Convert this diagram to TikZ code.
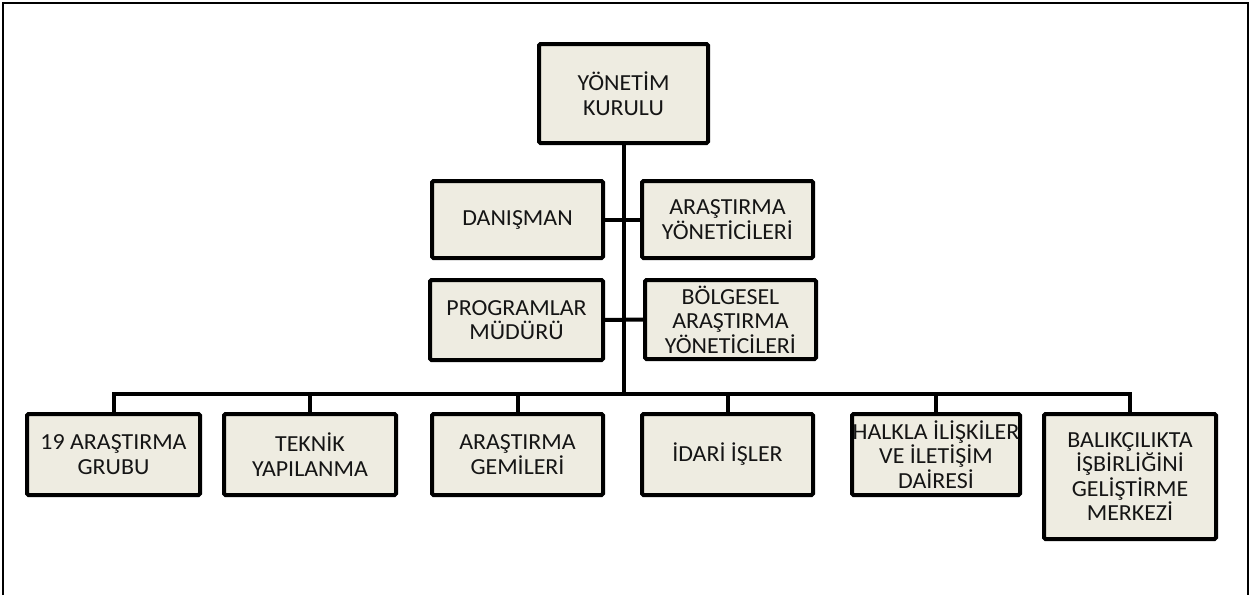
\documentclass[tikz,border=0pt]{standalone}
\usepackage{fontspec}
\setmainfont[FakeStretch=1.04]{Carlito}
\definecolor{boxfill}{HTML}{EEECE1}
\definecolor{txt}{HTML}{151515}
\begin{document}
\begin{tikzpicture}[x=1pt,y=-1pt,
  orgbox/.style={draw=black, line width=4pt, fill=boxfill, rounded corners=1.5pt,
    inner sep=0pt, outer sep=0pt, align=center, text=txt,
    font=\fontsize{23}{24.5}\selectfont},
  link/.style={draw=black, line width=4pt}]
\useasboundingbox (0,0) rectangle (1250,595);
\draw[line width=2pt] (2.5,595) -- (2.5,2.5) -- (1247.5,2.5) -- (1247.5,595);
% top
\node[orgbox, minimum width=169pt, minimum height=99pt] (top) at (623.5,93.5) {YÖNETİM\\KURULU};
% middle
\node[orgbox, minimum width=171pt, minimum height=77pt] (dan) at (517.5,219.5) {DANIŞMAN};
\node[orgbox, minimum width=171pt, minimum height=77pt] (ary) at (727.5,219.5) {ARAŞTIRMA\\YÖNETİCİLERİ};
\node[orgbox, minimum width=173pt, minimum height=80pt] (prg) at (516.5,320) {PROGRAMLAR\\MÜDÜRÜ};
\node[orgbox, minimum width=171pt, minimum height=79pt] (bol) at (730.5,319.5) {BÖLGESEL\\ARAŞTIRMA\\YÖNETİCİLERİ};
% bottom row
\node[orgbox, minimum width=173pt, minimum height=81pt] (b1) at (113.5,454.5) {19 ARAŞTIRMA\\GRUBU};
\node[orgbox, minimum width=172pt, minimum height=81pt] (b2) at (310,454.5) {TEKNİK\\YAPILANMA};
\node[orgbox, minimum width=171pt, minimum height=81pt] (b3) at (517.5,454.5) {ARAŞTIRMA\\GEMİLERİ};
\node[orgbox, minimum width=171pt, minimum height=81pt] (b4) at (727.5,454.5) {İDARİ İŞLER};
\node[orgbox, minimum width=168pt, minimum height=81pt] (b5) at (936,454.5) {HALKLA İLİŞKİLER\\VE İLETİŞİM\\DAİRESİ};
\node[orgbox, minimum width=172pt, minimum height=125pt] (b6) at (1130,476.5) {BALIKÇILIKTA\\İŞBİRLİĞİNİ\\GELİŞTİRME\\MERKEZİ};
% connectors
\coordinate (bus) at (623.5,394);
\draw[link] (top.south) -- (bus);
\draw[link] (dan.east) -- (ary.west);
\draw[link] (prg.east) -- (bol.west);
\draw[link, line cap=rect] (bus) -| (b1.north);
\draw[link] (bus) -| (b2.north);
\draw[link] (bus) -| (b3.north);
\draw[link] (bus) -| (b4.north);
\draw[link] (bus) -| (b5.north);
\draw[link, line cap=rect] (bus) -| (b6.north);
\end{tikzpicture}
\end{document}
